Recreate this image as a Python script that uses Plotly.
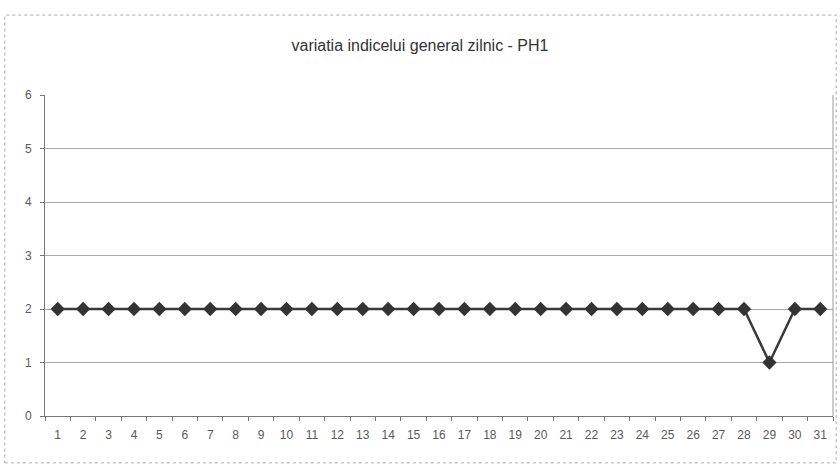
import plotly.graph_objects as go

days = [str(d) for d in range(1, 32)]
values = [2, 2, 2, 2, 2, 2, 2, 2, 2, 2,
          2, 2, 2, 2, 2, 2, 2, 2, 2, 2,
          2, 2, 2, 2, 2, 2, 2, 2, 1, 2, 2]
title_text = "variatia indicelui general zilnic - PH1"

fig = go.Figure()
fig.add_trace(go.Scatter(
    x=days, y=values, mode="lines+markers",
    line=dict(color="#3a3a3a", width=2.5),
    marker=dict(symbol="diamond", size=11, color="#333333"),
    showlegend=False,
))

fig.update_layout(
    width=840, height=470,
    paper_bgcolor="white", plot_bgcolor="white",
    margin=dict(l=45, r=7, t=95, b=54, autoexpand=False),
    title=dict(text=title_text, x=0.5, xanchor="center", y=1 - 45 / 470, yanchor="middle",
               font=dict(family="Liberation Sans, Arial", size=16, color="#333333")),
    font=dict(family="Liberation Sans, Arial", size=12, color="#5a5a5a"),
)
fig.update_xaxes(
    type="category", range=[-0.5, len(days) - 0.5], autorange=False,
    tickson="boundaries", ticks="outside", ticklen=4, ticklabelstandoff=8,
    tickcolor="#777777", showline=True, linecolor="#777777", linewidth=1,
    showgrid=False, automargin=False,
)
fig.update_yaxes(
    range=[0, 6], dtick=1, ticks="outside", ticklen=4, tickcolor="#777777",
    ticklabelstandoff=6,
    showline=True, linecolor="#777777", linewidth=1, automargin=False,
    showgrid=True, gridcolor="#a8a8a8", gridwidth=1, zeroline=False,
)
# right border of plot area
fig.add_shape(type="line", xref="paper", yref="paper", x0=1, x1=1, y0=0, y1=1,
              line=dict(color="#999999", width=1))
# outer chart border (dotted)
fig.add_shape(type="rect", xref="paper", yref="paper",
              x0=-0.051, x1=1.004, y0=-0.146, y1=1.249,
              line=dict(color="#aaaaaa", width=1, dash="dot"))

fig.write_html("out.html", config={"displayModeBar": False},
               post_script="document.body.style.margin='0';document.body.style.overflow='hidden';")
